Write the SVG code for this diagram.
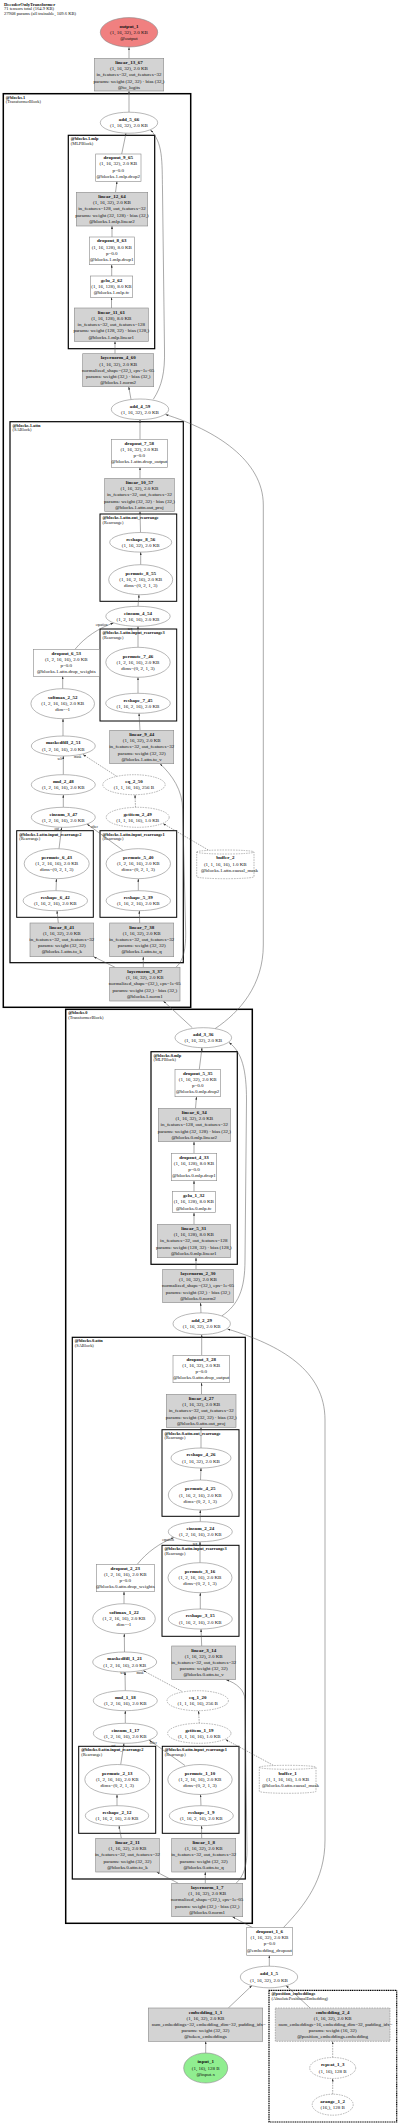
<svg xmlns="http://www.w3.org/2000/svg" width="400" height="2127" viewBox="0 0 400 2127">
<style>
text{font-family:"Liberation Serif","DejaVu Serif",serif;font-size:5px;fill:#111;dominant-baseline:central}
.c{text-anchor:middle}
.b{font-weight:bold}
.tt{font-size:4.6px}
.cl{font-size:4.4px}
.el{font-size:3.4px}
.ov{font-size:4.9px}
.n{fill:#fff;stroke:#888;stroke-width:0.6}
.p{fill:#d3d3d3;stroke:#888;stroke-width:0.6}
.d{stroke-dasharray:1.6,1}
.k1{fill:none;stroke:#000;stroke-width:1.5}
.k2{fill:none;stroke:#000;stroke-width:1.2}
.k3{fill:none;stroke:#000;stroke-width:1}
.kd{fill:none;stroke:#000;stroke-width:1.2;stroke-dasharray:1.2,0.6}
.e{fill:none;stroke:#555;stroke-width:0.5;marker-end:url(#a)}
.ed{fill:none;stroke:#555;stroke-width:0.5;stroke-dasharray:1.6,1;marker-end:url(#a)}
</style>
<defs>
<marker id="a" viewBox="0 0 6 4" refX="6" refY="2" markerWidth="3" markerHeight="2" markerUnits="userSpaceOnUse" orient="auto"><path d="M0,0 L6,2 L0,4 z" fill="#333"/></marker>
</defs>
<rect width="400" height="2127" fill="#fff"/>
<g id="title">
<text x="4" y="4.3" class="tt b">DecoderOnlyTransformer</text>
<text x="4" y="8.9" class="tt">71 tensors total (164.9 KB)</text>
<text x="4" y="13.3" class="tt">27908 params (all trainable, 109.6 KB)</text>
</g>
<g id="clusters">
<g id="cl_blocks1"><rect class="k1" x="3.3" y="93.7" width="187.4" height="913.6"/><text x="5.8" y="97.2" class="cl b">@blocks.1</text><text x="5.8" y="101.7" class="cl">(TransformerBlock)</text></g>
<g id="cl_blocks1_mlp"><rect class="k2" x="68.3" y="135.3" width="86.4" height="213.4"/><text x="70.8" y="138.8" class="cl b">@blocks.1.mlp</text><text x="70.8" y="143.3" class="cl">(MLPBlock)</text></g>
<g id="cl_blocks1_attn"><rect class="k2" x="10" y="421.7" width="173.3" height="541"/><text x="12.5" y="425.2" class="cl b">@blocks.1.attn</text><text x="12.5" y="429.7" class="cl">(SABlock)</text></g>
<g id="cl_blocks1_attn_out"><rect class="k3" x="100" y="514" width="76.7" height="87.3"/><text x="102.5" y="517.5" class="cl b">@blocks.1.attn.out_rearrange</text><text x="102.5" y="522" class="cl">(Rearrange)</text></g>
<g id="cl_blocks1_attn_in3"><rect class="k3" x="100" y="629" width="76.7" height="92"/><text x="102.5" y="632.5" class="cl b">@blocks.1.attn.input_rearrange3</text><text x="102.5" y="637" class="cl">(Rearrange)</text></g>
<g id="cl_blocks1_attn_in2"><rect class="k3" x="16.7" y="830.7" width="76.6" height="86.6"/><text x="19.2" y="834.2" class="cl b">@blocks.1.attn.input_rearrange2</text><text x="19.2" y="838.7" class="cl">(Rearrange)</text></g>
<g id="cl_blocks1_attn_in1"><rect class="k3" x="100" y="830.7" width="76.7" height="86.6"/><text x="102.5" y="834.2" class="cl b">@blocks.1.attn.input_rearrange1</text><text x="102.5" y="838.7" class="cl">(Rearrange)</text></g>
<g id="cl_blocks0"><rect class="k1" x="65.7" y="1009.3" width="186.6" height="914"/><text x="68.2" y="1012.8" class="cl b">@blocks.0</text><text x="68.2" y="1017.3" class="cl">(TransformerBlock)</text></g>
<g id="cl_blocks0_mlp"><rect class="k2" x="151" y="1051.7" width="86.3" height="212.6"/><text x="153.5" y="1055.2" class="cl b">@blocks.0.mlp</text><text x="153.5" y="1059.7" class="cl">(MLPBlock)</text></g>
<g id="cl_blocks0_attn"><rect class="k2" x="72.3" y="1337.3" width="173" height="541.7"/><text x="74.8" y="1340.8" class="cl b">@blocks.0.attn</text><text x="74.8" y="1345.3" class="cl">(SABlock)</text></g>
<g id="cl_blocks0_attn_out"><rect class="k3" x="162" y="1429.7" width="77" height="86.6"/><text x="164.5" y="1433.2" class="cl b">@blocks.0.attn.out_rearrange</text><text x="164.5" y="1437.7" class="cl">(Rearrange)</text></g>
<g id="cl_blocks0_attn_in3"><rect class="k3" x="162" y="1545.3" width="77" height="91"/><text x="164.5" y="1548.8" class="cl b">@blocks.0.attn.input_rearrange3</text><text x="164.5" y="1553.3" class="cl">(Rearrange)</text></g>
<g id="cl_blocks0_attn_in2"><rect class="k3" x="78.7" y="1746.3" width="77" height="87"/><text x="81.2" y="1749.8" class="cl b">@blocks.0.attn.input_rearrange2</text><text x="81.2" y="1754.3" class="cl">(Rearrange)</text></g>
<g id="cl_blocks0_attn_in1"><rect class="k3" x="162.3" y="1746.3" width="76.7" height="87"/><text x="164.8" y="1749.8" class="cl b">@blocks.0.attn.input_rearrange1</text><text x="164.8" y="1754.3" class="cl">(Rearrange)</text></g>
<g id="cl_posemb"><rect class="kd" x="269" y="1990.3" width="127.7" height="131.7"/><text x="271.5" y="1993.8" class="cl b">@position_embeddings</text><text x="271.5" y="1998.3" class="cl">(AbsolutePositionalEmbedding)</text></g>
</g>
<g id="edges">
<path class="e" d="M129,58.3 L129,47.3"/>
<path class="e" d="M129,112.2 L129,91"/>
<path class="e" d="M121.7,154 L126,133.2"/>
<path class="e" d="M153.3,399.3 C162,386 165,372 164.5,350 L162.5,190 C162,160 163,143 150.5,130"/>
<path class="e" d="M115.5,192.3 L117,181.3"/>
<path class="e" d="M112,237 L112,226"/>
<path class="e" d="M111.7,276 L111.7,264.7"/>
<path class="e" d="M111.5,308 L111.5,297.3"/>
<path class="e" d="M115,353.7 L115,341.3"/>
<path class="e" d="M131,399.3 L128.7,386.7"/>
<path class="e" d="M140,439.3 L140,419.6"/>
<path class="e" d="M215,1028.7 C240,1012 263.3,985 263.3,945 L263.3,505 C263.3,460 215,430 165.5,414.5"/>
<path class="e" d="M140,478.3 L140,467.3"/>
<path class="e" d="M140.5,532.5 L140,511.3"/>
<path class="e" d="M140.7,564.7 L140.7,552.1"/>
<path class="e" d="M138,606.3 L139,594.7"/>
<path class="e" d="M75,649.3 C85,637 99,628 113.5,623"/>
<path class="e" d="M138,647.3 L138,626.3"/>
<path class="e" d="M62.7,688.7 L62.7,676.3"/>
<path class="e" d="M138,693.3 L138,677.3"/>
<path class="e" d="M63,736 L63,718.7"/>
<path class="e" d="M140,730.3 L139,713.3"/>
<path class="e" d="M63.3,774.7 L63.3,756"/>
<path class="ed" d="M116.7,776.3 L83,754.5"/>
<path class="e" d="M63.3,807.3 L63.3,794.7"/>
<path class="ed" d="M135.5,807.3 L135,794.7"/>
<path class="e" d="M59,848.7 L61.7,827.3"/>
<path class="e" d="M123.3,850.5 L87,824"/>
<path class="ed" d="M208.3,850 L163,823.5"/>
<path class="e" d="M56,890.7 L56.5,878.7"/>
<path class="e" d="M138.3,890.7 L138.3,878.7"/>
<path class="e" d="M58.3,923 L57,910.7"/>
<path class="e" d="M139.7,923 L139.3,910.7"/>
<path class="e" d="M115,967.3 L93.7,956.7"/>
<path class="e" d="M143.3,967.3 L143.3,956.7"/>
<path class="e" d="M176,967.3 C184,960 185.7,948 185.7,933 L182.7,810 C182.7,790 172,775 160,763.7"/>
<path class="e" d="M192.3,1027.7 L163.3,1001"/>
<path class="e" d="M199.3,1069.3 L202,1047.7"/>
<path class="e" d="M221.7,1316 C238,1305 245,1290 245,1260 L246.5,1100 C246.5,1070 242,1052 229,1042.5"/>
<path class="e" d="M195.5,1108.3 L196.5,1096.7"/>
<path class="e" d="M194,1153.3 L194,1141.7"/>
<path class="e" d="M194,1191.7 L194,1180.7"/>
<path class="e" d="M194,1224.3 L194,1212.7"/>
<path class="e" d="M196,1269.3 L196,1257.7"/>
<path class="e" d="M201,1313 L200.5,1302.7"/>
<path class="e" d="M201.7,1355.3 L201.7,1334.5"/>
<path class="e" d="M283.3,1927.7 C305,1905 325,1880 325,1840 L325,1420 C325,1370 280,1345 227.5,1329"/>
<path class="e" d="M201.5,1394.3 L201.5,1382.7"/>
<path class="e" d="M201,1448 L201,1427.3"/>
<path class="e" d="M200.5,1480 L201,1468"/>
<path class="e" d="M200.3,1521.7 L200.3,1510"/>
<path class="e" d="M137.3,1564.3 C147,1552 160,1543 174,1537.5"/>
<path class="e" d="M200,1562.7 L200,1541.7"/>
<path class="e" d="M124,1603.7 L124,1591.7"/>
<path class="e" d="M200.3,1609 L200.3,1592.7"/>
<path class="e" d="M124.5,1652 L124.3,1633.7"/>
<path class="e" d="M201.7,1646 L201,1629"/>
<path class="e" d="M125.3,1690.7 L125,1672"/>
<path class="ed" d="M181.7,1691.3 L143,1670.5"/>
<path class="e" d="M125.3,1723.3 L125.3,1710.7"/>
<path class="ed" d="M199.3,1723.3 L198.5,1710.7"/>
<path class="e" d="M120.7,1764.5 L124,1743.3"/>
<path class="e" d="M185,1765.5 L149,1740"/>
<path class="ed" d="M273.3,1765.3 L225.5,1739.5"/>
<path class="e" d="M117,1805.7 L117,1794.5"/>
<path class="e" d="M201,1805.7 L200.5,1794.5"/>
<path class="e" d="M121.3,1838.3 L119,1825.7"/>
<path class="e" d="M201.7,1838.3 L201.5,1825.7"/>
<path class="e" d="M178.3,1883.3 L156.7,1872"/>
<path class="e" d="M205.3,1883.3 L205.3,1872"/>
<path class="e" d="M236,1883.3 C244,1876 247,1865 247,1850 L245,1700 C245,1690 236,1683 226,1679.7"/>
<path class="e" d="M252.7,1927.7 L232.3,1916.7"/>
<path class="e" d="M269.3,1966.2 L269.3,1955.3"/>
<path class="e" d="M228.3,2008 L252,1985.5"/>
<path class="e" d="M310,2008 L286,1985.5"/>
<path class="e" d="M205.7,2053 L205.7,2041.3"/>
<path class="ed" d="M332.7,2057.5 L332.7,2041.3"/>
<path class="ed" d="M332.7,2094.2 L332.7,2078.5"/>
<text x="101.5" y="624.5" class="el c">equation</text>
<text x="130" y="628.5" class="el c">seq</text>
<text x="60" y="758.7" class="el c">self</text>
<text x="77.7" y="757" class="el c">mask</text>
<text x="56.7" y="829.3" class="el c">out</text>
<text x="94.3" y="827.3" class="el c">other</text>
<text x="168" y="1540" class="el c">equation</text>
<text x="195" y="1544" class="el c">seq</text>
<text x="122.7" y="1673.3" class="el c">self</text>
<text x="140" y="1672.7" class="el c">mask</text>
<text x="113.3" y="1746" class="el c">out</text>
<text x="153.3" y="1743" class="el c">other</text>
</g>
<g id="output_1"><ellipse cx="129" cy="32.3" rx="28.7" ry="14.7" fill="#f08080" stroke="#888" stroke-width="0.6"/><text x="129" y="26.1" class="c b">output_1</text><text x="129" y="32.3" class="c">(1, 16, 32), 2.0 KB</text><text x="129" y="38.5" class="c">@output</text></g>
<g id="linear_13_67"><rect class="p" x="94.3" y="58.3" width="69.4" height="32.7"/><text x="129" y="62.4" class="c b">linear_13_67</text><text x="129" y="68.6" class="c">(1, 16, 32), 2.0 KB</text><text x="129" y="74.8" class="c">in_features=32, out_features=32</text><text x="129" y="81" class="c">params: weight (32, 32) · bias (32,)</text><text x="129" y="87.2" class="c">@to_logits</text></g>
<g id="add_5_66"><ellipse class="n" cx="129" cy="122.7" rx="28.7" ry="10.5"/><text x="129" y="119.6" class="c b">add_5_66</text><text x="129" y="125.8" class="c">(1, 16, 32), 2.0 KB</text></g>
<g id="dropout_9_65"><rect class="n" x="95.7" y="154" width="45.3" height="27.3"/><text x="118.3" y="157.6" class="c b">dropout_9_65</text><text x="118.3" y="163.8" class="c">(1, 16, 32), 2.0 KB</text><text x="118.3" y="170" class="c">p=0.0</text><text x="118.3" y="176.2" class="c">@blocks.1.mlp.drop2</text></g>
<g id="linear_12_64"><rect class="p" x="76.3" y="192.3" width="71.4" height="33.7"/><text x="112" y="196.4" class="c b">linear_12_64</text><text x="112" y="202.6" class="c">(1, 16, 32), 2.0 KB</text><text x="112" y="208.8" class="c">in_features=128, out_features=32</text><text x="112" y="215" class="c">params: weight (32, 128) · bias (32,)</text><text x="112" y="221.2" class="c">@blocks.1.mlp.linear2</text></g>
<g id="dropout_8_63"><rect class="n" x="89.3" y="237" width="45" height="27.7"/><text x="111.8" y="240.8" class="c b">dropout_8_63</text><text x="111.8" y="247" class="c">(1, 16, 128), 8.0 KB</text><text x="111.8" y="253.2" class="c">p=0.0</text><text x="111.8" y="259.4" class="c">@blocks.1.mlp.drop1</text></g>
<g id="gelu_2_62"><rect class="n" x="90.3" y="276" width="42.4" height="21.3"/><text x="111.5" y="280" class="c b">gelu_2_62</text><text x="111.5" y="286.2" class="c">(1, 16, 128), 8.0 KB</text><text x="111.5" y="292.4" class="c">@blocks.1.mlp.fc</text></g>
<g id="linear_11_61"><rect class="p" x="74.3" y="308" width="74" height="33.3"/><text x="111.3" y="312.2" class="c b">linear_11_61</text><text x="111.3" y="318.4" class="c">(1, 16, 128), 8.0 KB</text><text x="111.3" y="324.6" class="c">in_features=32, out_features=128</text><text x="111.3" y="330.8" class="c">params: weight (128, 32) · bias (128,)</text><text x="111.3" y="337" class="c">@blocks.1.mlp.linear1</text></g>
<g id="layernorm_4_60"><rect class="p" x="82.7" y="353.7" width="71" height="33"/><text x="118.2" y="357.8" class="c b">layernorm_4_60</text><text x="118.2" y="364" class="c">(1, 16, 32), 2.0 KB</text><text x="118.2" y="370.2" class="c">normalized_shape=(32,), eps=1e-05</text><text x="118.2" y="376.4" class="c">params: weight (32,) · bias (32,)</text><text x="118.2" y="382.6" class="c">@blocks.1.norm2</text></g>
<g id="add_4_59"><ellipse class="n" cx="140" cy="409.3" rx="28.7" ry="10.3"/><text x="140" y="406.2" class="c b">add_4_59</text><text x="140" y="412.4" class="c">(1, 16, 32), 2.0 KB</text></g>
<g id="dropout_7_58"><rect class="n" x="111.3" y="439.3" width="56" height="28"/><text x="139.3" y="443" class="c b">dropout_7_58</text><text x="139.3" y="449.2" class="c">(1, 16, 32), 2.0 KB</text><text x="139.3" y="455.4" class="c">p=0.0</text><text x="139.3" y="461.6" class="c">@blocks.1.attn.drop_output</text></g>
<g id="linear_10_57"><rect class="p" x="104.7" y="478.3" width="69.6" height="33"/><text x="139.5" y="482.4" class="c b">linear_10_57</text><text x="139.5" y="488.6" class="c">(1, 16, 32), 2.0 KB</text><text x="139.5" y="494.8" class="c">in_features=32, out_features=32</text><text x="139.5" y="501" class="c">params: weight (32, 32) · bias (32,)</text><text x="139.5" y="507.2" class="c">@blocks.1.attn.out_proj</text></g>
<g id="reshape_8_56"><ellipse class="n" cx="140.7" cy="542.3" rx="31" ry="9.8"/><text x="140.7" y="539.2" class="c b">reshape_8_56</text><text x="140.7" y="545.4" class="c">(1, 16, 32), 2.0 KB</text></g>
<g id="permute_8_55"><ellipse class="n" cx="140.7" cy="579.7" rx="32" ry="15"/><text x="140.7" y="573.5" class="c b">permute_8_55</text><text x="140.7" y="579.7" class="c">(1, 16, 2, 16), 2.0 KB</text><text x="140.7" y="585.9" class="c">dims=(0, 2, 1, 3)</text></g>
<g id="einsum_4_54"><ellipse class="n" cx="138" cy="616.3" rx="32.2" ry="10"/><text x="138" y="613.2" class="c b">einsum_4_54</text><text x="138" y="619.4" class="c">(1, 2, 16, 16), 2.0 KB</text></g>
<g id="permute_7_46"><ellipse class="n" cx="138" cy="662.3" rx="32.2" ry="15"/><text x="138" y="656.1" class="c b">permute_7_46</text><text x="138" y="662.3" class="c">(1, 2, 16, 16), 2.0 KB</text><text x="138" y="668.5" class="c">dims=(0, 2, 1, 3)</text></g>
<g id="dropout_6_53"><rect class="n" x="33.3" y="649.3" width="66" height="27"/><text x="66.3" y="653" class="c b">dropout_6_53</text><text x="66.3" y="659.2" class="c">(1, 2, 16, 16), 2.0 KB</text><text x="66.3" y="665.4" class="c">p=0.0</text><text x="66.3" y="671.6" class="c">@blocks.1.attn.drop_weights</text></g>
<g id="softmax_2_52"><ellipse class="n" cx="62.7" cy="703.7" rx="31.8" ry="15"/><text x="62.7" y="697.5" class="c b">softmax_2_52</text><text x="62.7" y="703.7" class="c">(1, 2, 16, 16), 2.0 KB</text><text x="62.7" y="709.9" class="c">dim=-1</text></g>
<g id="reshape_7_45"><ellipse class="n" cx="138" cy="703.3" rx="32.3" ry="10"/><text x="138" y="700.2" class="c b">reshape_7_45</text><text x="138" y="706.4" class="c">(1, 16, 2, 16), 2.0 KB</text></g>
<g id="linear_9_44"><rect class="p" x="109.7" y="730.3" width="64" height="33.4"/><text x="141.7" y="734.4" class="c b">linear_9_44</text><text x="141.7" y="740.6" class="c">(1, 16, 32), 2.0 KB</text><text x="141.7" y="746.8" class="c">in_features=32, out_features=32</text><text x="141.7" y="753" class="c">params: weight (32, 32)</text><text x="141.7" y="759.2" class="c">@blocks.1.attn.to_v</text></g>
<g id="maskedfill_2_51"><ellipse class="n" cx="63.3" cy="746" rx="32" ry="10"/><text x="63.3" y="742.9" class="c b">maskedfill_2_51</text><text x="63.3" y="749.1" class="c">(1, 2, 16, 16), 2.0 KB</text></g>
<g id="mul_2_48"><ellipse class="n" cx="63.3" cy="784.7" rx="32" ry="10"/><text x="63.3" y="781.6" class="c b">mul_2_48</text><text x="63.3" y="787.8" class="c">(1, 2, 16, 16), 2.0 KB</text></g>
<g id="eq_2_50"><ellipse class="n d" cx="134" cy="784.7" rx="31.2" ry="10"/><text x="134" y="781.6" class="c b">eq_2_50</text><text x="134" y="787.8" class="c">(1, 1, 16, 16), 256 B</text></g>
<g id="einsum_3_47"><ellipse class="n" cx="63.3" cy="817.3" rx="32" ry="10"/><text x="63.3" y="814.2" class="c b">einsum_3_47</text><text x="63.3" y="820.4" class="c">(1, 2, 16, 16), 2.0 KB</text></g>
<g id="getitem_2_49"><ellipse class="n d" cx="137.7" cy="817.3" rx="31.5" ry="10"/><text x="137.7" y="814.2" class="c b">getitem_2_49</text><text x="137.7" y="820.4" class="c">(1, 1, 16, 16), 1.0 KB</text></g>
<g id="buffer_2"><path class="n d" d="M196.7,852 A28.65,2 0 0 1 254,852 L254,876.7 A28.65,2 0 0 1 196.7,876.7 Z M196.7,852 A28.65,2 0 0 0 254,852"/><text x="225.3" y="857.7" class="c b">buffer_2</text><text x="225.3" y="864" class="c">(1, 1, 16, 16), 1.0 KB</text><text x="229.5" y="870.2" class="c">@blocks.1.attn.causal_mask</text></g>
<g id="permute_6_43"><ellipse class="n" cx="56.7" cy="863.7" rx="32.5" ry="15"/><text x="56.7" y="857.5" class="c b">permute_6_43</text><text x="56.7" y="863.7" class="c">(1, 2, 16, 16), 2.0 KB</text><text x="56.7" y="869.9" class="c">dims=(0, 2, 1, 3)</text></g>
<g id="permute_5_40"><ellipse class="n" cx="138.3" cy="863.7" rx="32.2" ry="15"/><text x="138.3" y="857.5" class="c b">permute_5_40</text><text x="138.3" y="863.7" class="c">(1, 2, 16, 16), 2.0 KB</text><text x="138.3" y="869.9" class="c">dims=(0, 2, 1, 3)</text></g>
<g id="reshape_6_42"><ellipse class="n" cx="55.3" cy="900.7" rx="32.2" ry="10"/><text x="55.3" y="897.6" class="c b">reshape_6_42</text><text x="55.3" y="903.8" class="c">(1, 16, 2, 16), 2.0 KB</text></g>
<g id="reshape_5_39"><ellipse class="n" cx="138.3" cy="900.7" rx="32.2" ry="10"/><text x="138.3" y="897.6" class="c b">reshape_5_39</text><text x="138.3" y="903.8" class="c">(1, 16, 2, 16), 2.0 KB</text></g>
<g id="linear_8_41"><rect class="p" x="30" y="923" width="63.7" height="33.7"/><text x="61.8" y="927.1" class="c b">linear_8_41</text><text x="61.8" y="933.3" class="c">(1, 16, 32), 2.0 KB</text><text x="61.8" y="939.5" class="c">in_features=32, out_features=32</text><text x="61.8" y="945.7" class="c">params: weight (32, 32)</text><text x="61.8" y="951.9" class="c">@blocks.1.attn.to_k</text></g>
<g id="linear_7_38"><rect class="p" x="109.7" y="923" width="64" height="33.7"/><text x="141.7" y="927.1" class="c b">linear_7_38</text><text x="141.7" y="933.3" class="c">(1, 16, 32), 2.0 KB</text><text x="141.7" y="939.5" class="c">in_features=32, out_features=32</text><text x="141.7" y="945.7" class="c">params: weight (32, 32)</text><text x="141.7" y="951.9" class="c">@blocks.1.attn.to_q</text></g>
<g id="layernorm_3_37"><rect class="p" x="109.7" y="967.3" width="70.3" height="33.7"/><text x="144.8" y="971.4" class="c b">layernorm_3_37</text><text x="144.8" y="977.6" class="c">(1, 16, 32), 2.0 KB</text><text x="144.8" y="983.8" class="c">normalized_shape=(32,), eps=1e-05</text><text x="144.8" y="990" class="c">params: weight (32,) · bias (32,)</text><text x="144.8" y="996.2" class="c">@blocks.1.norm1</text></g>
<g id="add_3_36"><ellipse class="n" cx="203.3" cy="1037.7" rx="28.3" ry="10"/><text x="203.3" y="1034.6" class="c b">add_3_36</text><text x="203.3" y="1040.8" class="c">(1, 16, 32), 2.0 KB</text></g>
<g id="dropout_5_35"><rect class="n" x="175" y="1069.3" width="45.3" height="27.4"/><text x="197.7" y="1073" class="c b">dropout_5_35</text><text x="197.7" y="1079.2" class="c">(1, 16, 32), 2.0 KB</text><text x="197.7" y="1085.4" class="c">p=0.0</text><text x="197.7" y="1091.6" class="c">@blocks.0.mlp.drop2</text></g>
<g id="linear_6_34"><rect class="p" x="158.3" y="1108.3" width="72" height="33.4"/><text x="194.3" y="1112.4" class="c b">linear_6_34</text><text x="194.3" y="1118.6" class="c">(1, 16, 32), 2.0 KB</text><text x="194.3" y="1124.8" class="c">in_features=128, out_features=32</text><text x="194.3" y="1131" class="c">params: weight (32, 128) · bias (32,)</text><text x="194.3" y="1137.2" class="c">@blocks.0.mlp.linear2</text></g>
<g id="dropout_4_33"><rect class="n" x="171.3" y="1153.3" width="45.4" height="27.4"/><text x="194" y="1157" class="c b">dropout_4_33</text><text x="194" y="1163.2" class="c">(1, 16, 128), 8.0 KB</text><text x="194" y="1169.4" class="c">p=0.0</text><text x="194" y="1175.6" class="c">@blocks.0.mlp.drop1</text></g>
<g id="gelu_1_32"><rect class="n" x="172.3" y="1191.7" width="43" height="21"/><text x="193.8" y="1195.7" class="c b">gelu_1_32</text><text x="193.8" y="1201.9" class="c">(1, 16, 128), 8.0 KB</text><text x="193.8" y="1208.1" class="c">@blocks.0.mlp.fc</text></g>
<g id="linear_5_31"><rect class="p" x="157.3" y="1224.3" width="73" height="33.4"/><text x="193.8" y="1228.4" class="c b">linear_5_31</text><text x="193.8" y="1234.6" class="c">(1, 16, 128), 8.0 KB</text><text x="193.8" y="1240.8" class="c">in_features=32, out_features=128</text><text x="193.8" y="1247" class="c">params: weight (128, 32) · bias (128,)</text><text x="193.8" y="1253.2" class="c">@blocks.0.mlp.linear1</text></g>
<g id="layernorm_2_30"><rect class="p" x="162.7" y="1269.3" width="70.6" height="33.4"/><text x="198" y="1273.4" class="c b">layernorm_2_30</text><text x="198" y="1279.6" class="c">(1, 16, 32), 2.0 KB</text><text x="198" y="1285.8" class="c">normalized_shape=(32,), eps=1e-05</text><text x="198" y="1292" class="c">params: weight (32,) · bias (32,)</text><text x="198" y="1298.2" class="c">@blocks.0.norm2</text></g>
<g id="add_2_29"><ellipse class="n" cx="201.7" cy="1323.7" rx="28.7" ry="10.8"/><text x="201.7" y="1320.6" class="c b">add_2_29</text><text x="201.7" y="1326.8" class="c">(1, 16, 32), 2.0 KB</text></g>
<g id="dropout_3_28"><rect class="n" x="173" y="1355.3" width="56.3" height="27.4"/><text x="201.2" y="1359" class="c b">dropout_3_28</text><text x="201.2" y="1365.2" class="c">(1, 16, 32), 2.0 KB</text><text x="201.2" y="1371.4" class="c">p=0.0</text><text x="201.2" y="1377.6" class="c">@blocks.0.attn.drop_output</text></g>
<g id="linear_4_27"><rect class="p" x="166.3" y="1394.3" width="69.7" height="33"/><text x="201.2" y="1398.4" class="c b">linear_4_27</text><text x="201.2" y="1404.6" class="c">(1, 16, 32), 2.0 KB</text><text x="201.2" y="1410.8" class="c">in_features=32, out_features=32</text><text x="201.2" y="1417" class="c">params: weight (32, 32) · bias (32,)</text><text x="201.2" y="1423.2" class="c">@blocks.0.attn.out_proj</text></g>
<g id="reshape_4_26"><ellipse class="n" cx="201" cy="1458" rx="30" ry="10"/><text x="201" y="1454.9" class="c b">reshape_4_26</text><text x="201" y="1461.1" class="c">(1, 16, 32), 2.0 KB</text></g>
<g id="permute_4_25"><ellipse class="n" cx="200.3" cy="1495" rx="32" ry="15"/><text x="200.3" y="1488.8" class="c b">permute_4_25</text><text x="200.3" y="1495" class="c">(1, 16, 2, 16), 2.0 KB</text><text x="200.3" y="1501.2" class="c">dims=(0, 2, 1, 3)</text></g>
<g id="einsum_2_24"><ellipse class="n" cx="200.3" cy="1531.7" rx="32" ry="10"/><text x="200.3" y="1528.6" class="c b">einsum_2_24</text><text x="200.3" y="1534.8" class="c">(1, 2, 16, 16), 2.0 KB</text></g>
<g id="permute_3_16"><ellipse class="n" cx="200" cy="1577.7" rx="32" ry="15"/><text x="200" y="1571.5" class="c b">permute_3_16</text><text x="200" y="1577.7" class="c">(1, 2, 16, 16), 2.0 KB</text><text x="200" y="1583.9" class="c">dims=(0, 2, 1, 3)</text></g>
<g id="dropout_2_23"><rect class="n" x="96.3" y="1564.3" width="58" height="27.4"/><text x="125.3" y="1568" class="c b">dropout_2_23</text><text x="125.3" y="1574.2" class="c">(1, 2, 16, 16), 2.0 KB</text><text x="125.3" y="1580.4" class="c">p=0.0</text><text x="125.3" y="1586.6" class="c">@blocks.0.attn.drop_weights</text></g>
<g id="softmax_1_22"><ellipse class="n" cx="124" cy="1618.7" rx="31.3" ry="15"/><text x="124" y="1612.5" class="c b">softmax_1_22</text><text x="124" y="1618.7" class="c">(1, 2, 16, 16), 2.0 KB</text><text x="124" y="1624.9" class="c">dim=-1</text></g>
<g id="reshape_3_15"><ellipse class="n" cx="200.3" cy="1619" rx="32" ry="10"/><text x="200.3" y="1615.9" class="c b">reshape_3_15</text><text x="200.3" y="1622.1" class="c">(1, 16, 2, 16), 2.0 KB</text></g>
<g id="linear_3_14"><rect class="p" x="171.7" y="1646" width="64" height="33.7"/><text x="203.7" y="1650.1" class="c b">linear_3_14</text><text x="203.7" y="1656.3" class="c">(1, 16, 32), 2.0 KB</text><text x="203.7" y="1662.5" class="c">in_features=32, out_features=32</text><text x="203.7" y="1668.7" class="c">params: weight (32, 32)</text><text x="203.7" y="1674.9" class="c">@blocks.0.attn.to_v</text></g>
<g id="maskedfill_1_21"><ellipse class="n" cx="124.7" cy="1662" rx="32" ry="10"/><text x="124.7" y="1658.9" class="c b">maskedfill_1_21</text><text x="124.7" y="1665.1" class="c">(1, 2, 16, 16), 2.0 KB</text></g>
<g id="mul_1_18"><ellipse class="n" cx="125.3" cy="1700.7" rx="32" ry="10"/><text x="125.3" y="1697.6" class="c b">mul_1_18</text><text x="125.3" y="1703.8" class="c">(1, 2, 16, 16), 2.0 KB</text></g>
<g id="eq_1_20"><ellipse class="n d" cx="197.7" cy="1700.7" rx="30.7" ry="10"/><text x="197.7" y="1697.6" class="c b">eq_1_20</text><text x="197.7" y="1703.8" class="c">(1, 1, 16, 16), 256 B</text></g>
<g id="einsum_1_17"><ellipse class="n" cx="125.3" cy="1733.3" rx="32" ry="10"/><text x="125.3" y="1730.2" class="c b">einsum_1_17</text><text x="125.3" y="1736.4" class="c">(1, 2, 16, 16), 2.0 KB</text></g>
<g id="getitem_1_19"><ellipse class="n d" cx="199.3" cy="1733.3" rx="31.7" ry="10"/><text x="199.3" y="1730.2" class="c b">getitem_1_19</text><text x="199.3" y="1736.4" class="c">(1, 1, 16, 16), 1.0 KB</text></g>
<g id="buffer_1"><path class="n d" d="M259.3,1767.3 A28.35,2 0 0 1 316,1767.3 L316,1791.3 A28.35,2 0 0 1 259.3,1791.3 Z M259.3,1767.3 A28.35,2 0 0 0 316,1767.3"/><text x="287.7" y="1773" class="c b">buffer_1</text><text x="287.7" y="1779.3" class="c">(1, 1, 16, 16), 1.0 KB</text><text x="290.5" y="1785.6" class="c">@blocks.0.attn.causal_mask</text></g>
<g id="permute_2_13"><ellipse class="n" cx="117.3" cy="1779.5" rx="32.5" ry="15"/><text x="117.3" y="1773.3" class="c b">permute_2_13</text><text x="117.3" y="1779.5" class="c">(1, 2, 16, 16), 2.0 KB</text><text x="117.3" y="1785.7" class="c">dims=(0, 2, 1, 3)</text></g>
<g id="permute_1_10"><ellipse class="n" cx="200" cy="1779.5" rx="32.2" ry="15"/><text x="200" y="1773.3" class="c b">permute_1_10</text><text x="200" y="1779.5" class="c">(1, 2, 16, 16), 2.0 KB</text><text x="200" y="1785.7" class="c">dims=(0, 2, 1, 3)</text></g>
<g id="reshape_2_12"><ellipse class="n" cx="117" cy="1815.7" rx="31.7" ry="10"/><text x="117" y="1812.6" class="c b">reshape_2_12</text><text x="117" y="1818.8" class="c">(1, 16, 2, 16), 2.0 KB</text></g>
<g id="reshape_1_9"><ellipse class="n" cx="201.3" cy="1815.7" rx="32" ry="10"/><text x="201.3" y="1812.6" class="c b">reshape_1_9</text><text x="201.3" y="1818.8" class="c">(1, 16, 2, 16), 2.0 KB</text></g>
<g id="linear_2_11"><rect class="p" x="95.7" y="1838.3" width="63.6" height="33.7"/><text x="127.5" y="1842.4" class="c b">linear_2_11</text><text x="127.5" y="1848.6" class="c">(1, 16, 32), 2.0 KB</text><text x="127.5" y="1854.8" class="c">in_features=32, out_features=32</text><text x="127.5" y="1861" class="c">params: weight (32, 32)</text><text x="127.5" y="1867.2" class="c">@blocks.0.attn.to_k</text></g>
<g id="linear_1_8"><rect class="p" x="171.7" y="1838.3" width="64" height="33.7"/><text x="203.7" y="1842.4" class="c b">linear_1_8</text><text x="203.7" y="1848.6" class="c">(1, 16, 32), 2.0 KB</text><text x="203.7" y="1854.8" class="c">in_features=32, out_features=32</text><text x="203.7" y="1861" class="c">params: weight (32, 32)</text><text x="203.7" y="1867.2" class="c">@blocks.0.attn.to_q</text></g>
<g id="layernorm_1_7"><rect class="p" x="171.7" y="1883.3" width="71" height="33.4"/><text x="207.2" y="1887.4" class="c b">layernorm_1_7</text><text x="207.2" y="1893.6" class="c">(1, 16, 32), 2.0 KB</text><text x="207.2" y="1899.8" class="c">normalized_shape=(32,), eps=1e-05</text><text x="207.2" y="1906" class="c">params: weight (32,) · bias (32,)</text><text x="207.2" y="1912.2" class="c">@blocks.0.norm1</text></g>
<g id="dropout_1_6"><rect class="n" x="246.7" y="1927.7" width="45.6" height="27.6"/><text x="269.5" y="1931.4" class="c b">dropout_1_6</text><text x="269.5" y="1937.6" class="c">(1, 16, 32), 2.0 KB</text><text x="269.5" y="1943.8" class="c">p=0.0</text><text x="269.5" y="1950" class="c">@embedding_dropout</text></g>
<g id="add_1_5"><ellipse class="n" cx="269" cy="1977" rx="28.7" ry="10.8"/><text x="269" y="1973.9" class="c b">add_1_5</text><text x="269" y="1980.1" class="c">(1, 16, 32), 2.0 KB</text></g>
<g id="embedding_1_1"><rect class="p" x="148.3" y="2008" width="114.4" height="33.3"/><text x="205.5" y="2012.1" class="c b">embedding_1_1</text><text x="205.5" y="2018.3" class="c">(1, 16, 32), 2.0 KB</text><text x="151.7" y="2024.5" class="ov">num_embeddings=32, embedding_dim=32, padding_idx=</text><text x="205.5" y="2030.7" class="c">params: weight (32, 32)</text><text x="205.5" y="2036.9" class="c">@token_embeddings</text></g>
<g id="embedding_2_4"><rect class="p d" x="275.3" y="2008" width="114.7" height="33.3"/><text x="332.7" y="2012.1" class="c b">embedding_2_4</text><text x="332.7" y="2018.3" class="c">(1, 16, 32), 2.0 KB</text><text x="278.5" y="2024.5" class="ov">num_embeddings=16, embedding_dim=32, padding_idx=</text><text x="332.7" y="2030.7" class="c">params: weight (16, 32)</text><text x="332.7" y="2036.9" class="c">@position_embeddings.embedding</text></g>
<g id="input_1"><ellipse cx="205.7" cy="2068" rx="22" ry="15" fill="#90ee90" stroke="#888" stroke-width="0.6"/><text x="205.7" y="2061.8" class="c b">input_1</text><text x="205.7" y="2068" class="c">(1, 16), 128 B</text><text x="205.7" y="2074.2" class="c">@input.x</text></g>
<g id="repeat_1_3"><ellipse class="n d" cx="332.7" cy="2068" rx="23" ry="10.5"/><text x="332.7" y="2064.9" class="c b">repeat_1_3</text><text x="332.7" y="2071.1" class="c">(1, 16), 128 B</text></g>
<g id="arange_1_2"><ellipse class="n d" cx="332.7" cy="2104.7" rx="20.5" ry="10.5"/><text x="332.7" y="2101.6" class="c b">arange_1_2</text><text x="332.7" y="2107.8" class="c">(16,), 128 B</text></g>
</svg>
